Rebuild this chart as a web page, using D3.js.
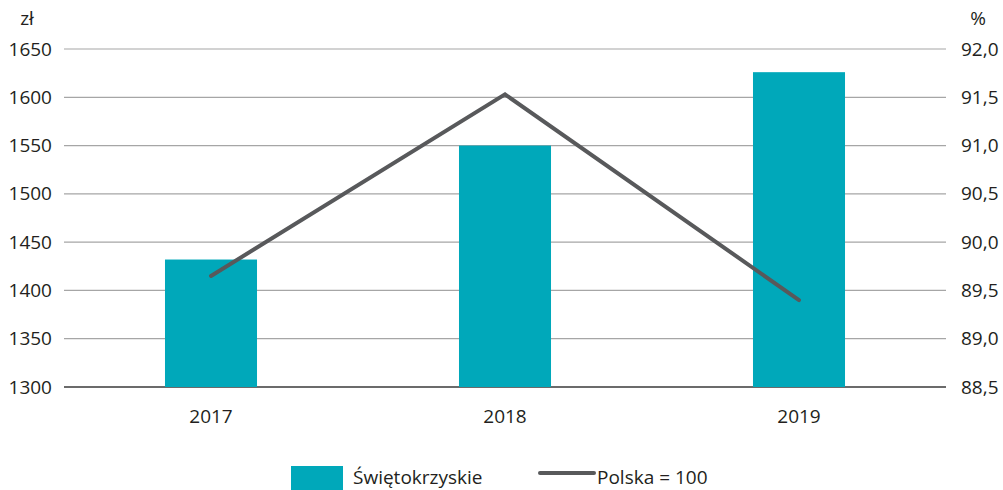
<!DOCTYPE html>
<html>
<head>
<meta charset="utf-8">
<script src="https://cdn.jsdelivr.net/npm/d3@7"></script>
<style>
  body { margin: 0; background: #fff; }
  svg text { font-family: "Open Sans", "Noto Sans", sans-serif; fill: #231f20; }
</style>
</head>
<body>
<div id="chart"></div>
<script>
const years = ["2017", "2018", "2019"]
const wages = [1432, 1550, 1626]          // zł, bars
const polska = [89.65, 91.53, 89.4]       // %, Polska = 100
const leftTicks = [1300, 1350, 1400, 1450, 1500, 1550, 1600, 1650]
const rightTicks = [88.5, 89.0, 89.5, 90.0, 90.5, 91.0, 91.5, 92.0]

const width = 1003, height = 490
const plotLeft = 64, plotRight = 946, plotTop = 49, plotBottom = 387
const fs = 19

const svg = d3.select("#chart").append("svg")
  .attr("width", width)
  .attr("height", height)

const x = d3.scaleBand().domain(years).range([plotLeft, plotRight]).paddingInner(0.687).paddingOuter(0.3435)
const yL = d3.scaleLinear().domain([1300, 1650]).range([plotBottom, plotTop])
const yR = d3.scaleLinear().domain([88.5, 92.0]).range([plotBottom, plotTop])

// gridlines
svg.append("g")
  .selectAll("line")
  .data(leftTicks)
  .enter().append("line")
    .attr("x1", plotLeft).attr("x2", plotRight)
    .attr("y1", d => yL(d)).attr("y2", d => yL(d))
    .attr("stroke", d => d === 1300 ? "#3a3a3a" : "#a6a6a6")
    .attr("stroke-width", d => d === 1300 ? 1.5 : 1.2)

// left axis labels
const axL = svg.append("g").attr("transform", `translate(${plotLeft},0)`)
  .call(d3.axisLeft(yL).tickValues(leftTicks).tickSize(0).tickPadding(12).tickFormat(d3.format("d")))
axL.select(".domain").remove()
axL.selectAll("text").attr("font-size", fs).attr("font-family", null)

// right axis labels
const axR = svg.append("g").attr("transform", `translate(${plotRight},0)`)
  .call(d3.axisRight(yR).tickValues(rightTicks).tickSize(0).tickPadding(15).tickFormat(d => d.toFixed(1).replace(".", ",")))
axR.select(".domain").remove()
axR.selectAll("text").attr("font-size", fs).attr("font-family", null)

// x axis labels
const axX = svg.append("g").attr("transform", `translate(0,${plotBottom})`)
  .call(d3.axisBottom(x).tickSize(0).tickPadding(23))
axX.select(".domain").remove()
axX.selectAll("text").attr("font-size", fs).attr("font-family", null)

// unit labels
svg.append("text").attr("x", 27).attr("y", 25).attr("text-anchor", "middle").attr("font-size", fs).text("zł")
svg.append("text").attr("x", 978).attr("y", 25).attr("text-anchor", "middle").attr("font-size", fs).text("%")

// bars
svg.append("g")
  .selectAll("rect")
  .data(wages)
  .enter().append("rect")
    .attr("x", (d, i) => x(years[i]))
    .attr("width", x.bandwidth())
    .attr("y", d => yL(d))
    .attr("height", d => yL(1300) - yL(d))
    .attr("fill", "#00a8ba")

// line
const line = d3.line()
  .x((d, i) => x(years[i]) + x.bandwidth() / 2)
  .y(d => yR(d))
svg.append("path")
  .attr("d", line(polska))
  .attr("fill", "none")
  .attr("stroke", "#58595b")
  .attr("stroke-width", 4)
  .attr("stroke-linecap", "round")
  .attr("stroke-linejoin", "miter")

// legend
const lg = svg.append("g")
lg.append("rect").attr("x", 291).attr("y", 466).attr("width", 52).attr("height", 26).attr("fill", "#00a8ba")
lg.append("text").attr("x", 353).attr("y", 484).attr("font-size", fs).text("Świętokrzyskie")
lg.append("line").attr("x1", 540).attr("x2", 594).attr("y1", 473).attr("y2", 473)
  .attr("stroke", "#58595b").attr("stroke-width", 4).attr("stroke-linecap", "round")
lg.append("text").attr("x", 597).attr("y", 484).attr("font-size", fs).text("Polska = 100")
</script>
</body>
</html>
